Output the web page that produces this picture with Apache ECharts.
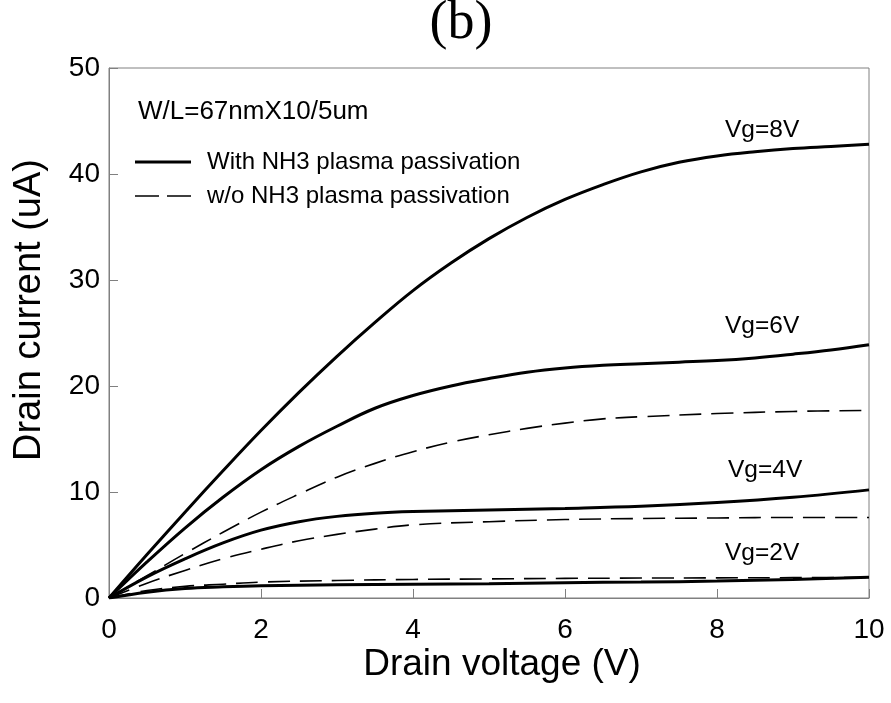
<!DOCTYPE html>
<html>
<head>
<meta charset="utf-8">
<script src="https://cdn.jsdelivr.net/npm/echarts@6/dist/echarts.min.js"></script>
<style>html,body{margin:0;padding:0;background:#fff}#c{width:891px;height:703px}</style>
</head>
<body>
<div id="c"></div>
<script>
// Drain voltage (V) vs drain current (uA)
const vg8Solid = [[0,0],[0.5,4.1],[1,8.1],[1.5,12.0],[2,15.8],[2.5,19.4],[3,22.8],[3.5,26.0],[4,29.0],[4.5,31.6],[5,33.9],[5.5,35.9],[6,37.6],[6.5,39.0],[7,40.2],[7.5,41.1],[8,41.7],[8.5,42.1],[9,42.4],[9.5,42.6],[10,42.8]];
const vg6Solid = [[0,0],[0.5,3.4],[1,6.6],[1.5,9.5],[2,12.1],[2.5,14.3],[3,16.2],[3.5,17.9],[4,19.1],[4.5,20.0],[5,20.7],[5.5,21.3],[6,21.7],[6.5,21.95],[7,22.1],[7.5,22.25],[8,22.4],[8.5,22.65],[9,23.0],[9.5,23.4],[10,23.9]];
const vg6Dash  = [[0,0],[0.5,2.1],[1,4.2],[1.5,6.2],[2,8.1],[2.5,9.8],[3,11.4],[3.5,12.7],[4,13.8],[4.5,14.7],[5,15.4],[5.5,16.0],[6,16.5],[6.5,16.9],[7,17.1],[8,17.4],[9,17.6],[10,17.7]];
const vg4Solid = [[0,0],[0.5,2.0],[1,3.7],[1.5,5.2],[2,6.4],[2.5,7.2],[3,7.7],[3.5,8.0],[4,8.15],[5,8.3],[6,8.45],[7,8.65],[8,9.0],[9,9.5],[10,10.2]];
const vg4Dash  = [[0,0],[0.5,1.4],[1,2.6],[1.5,3.7],[2,4.6],[2.5,5.4],[3,6.0],[3.5,6.5],[4,6.9],[5,7.2],[6,7.4],[7,7.5],[8,7.55],[9,7.6],[10,7.6]];
const vg2Solid = [[0,0],[0.5,0.55],[1,0.9],[1.5,1.05],[2,1.15],[3,1.25],[4,1.3],[5,1.35],[6,1.45],[7,1.5],[8,1.6],[9,1.75],[10,1.95]];
const vg2Dash  = [[0,0],[0.5,0.7],[1,1.1],[1.5,1.3],[2,1.5],[3,1.65],[4,1.75],[5,1.8],[6,1.85],[7,1.88],[8,1.9],[9,1.92],[10,1.95]];
const legendNames = ['With NH3 plasma passivation', 'w/o NH3 plasma passivation'];
const vgLabels = ['Vg=8V', 'Vg=6V', 'Vg=4V', 'Vg=2V'];
const axisNames = ['Drain voltage (V)', 'Drain current (uA)'];

const solid = (d) => ({type:'line', name:legendNames[0], data:d, smooth:0.4, showSymbol:false, symbol:'none',
  lineStyle:{color:'#000', width:3, type:'solid'}, silent:true, z:3});
const dash = (d) => ({type:'line', name:legendNames[1], data:d, smooth:0.4, showSymbol:false, symbol:'none',
  lineStyle:{color:'#000', width:1.6, type:[22,10]}, silent:true, z:2});

const sans = 'Liberation Sans, Arial, sans-serif';
const txt = (t, x, y, size, align) => ({type:'text', x:x, y:y,
  style:{text:t, font: size + 'px ' + sans, fill:'#000', textAlign: align || 'left', align: align || 'left',
    textVerticalAlign:'middle', verticalAlign:'middle'}});

const chart = echarts.init(document.getElementById('c'));
chart.setOption({
  animation:false,
  backgroundColor:'#fff',
  title:{text:'(b)', left:456, top:-8, textAlign:'center',
    textStyle:{fontFamily:'Liberation Serif, Times New Roman, serif', fontSize:54, fontWeight:'normal', color:'#000'}},
  grid:{left:109, right:22, top:68, bottom:105, show:true, borderColor:'#808080', borderWidth:1},
  xAxis:{type:'value', min:0, max:10, interval:2,
    axisLine:{lineStyle:{color:'#808080', width:1}},
    axisTick:{inside:true, length:9, lineStyle:{color:'#808080'}},
    axisLabel:{fontFamily:sans, fontSize:28, color:'#000', margin:18},
    splitLine:{show:false}},
  yAxis:{type:'value', min:0, max:50, interval:10,
    axisLine:{show:true, lineStyle:{color:'#808080', width:1}},
    axisTick:{show:true, inside:true, length:9, lineStyle:{color:'#808080'}},
    axisLabel:{fontFamily:sans, fontSize:28, color:'#000', margin:9},
    splitLine:{show:false}},
  graphic:[
    txt(axisNames[0], 502, 665, 37, 'center'),
    {type:'text', x:30, y:310, rotation:Math.PI/2,
      style:{text:axisNames[1], font:'38px ' + sans, fill:'#000', textAlign:'center', align:'center',
        textVerticalAlign:'middle', verticalAlign:'middle'}},
    txt('W/L=67nmX10/5um', 138, 112, 26),
    {type:'line', shape:{x1:135, y1:162, x2:191, y2:162}, style:{stroke:'#000', lineWidth:3}},
    {type:'line', shape:{x1:135, y1:196, x2:191, y2:196}, style:{stroke:'#000', lineWidth:1.6, lineDash:[24,8]}},
    txt(legendNames[0], 207, 162, 24),
    txt(legendNames[1], 207, 196, 24),
    txt(vgLabels[0], 725, 130, 24.5),
    txt(vgLabels[1], 725, 326, 24.5),
    txt(vgLabels[2], 728, 470, 24.5),
    txt(vgLabels[3], 725, 553, 24.5)
  ],
  series:[solid(vg8Solid), solid(vg6Solid), dash(vg6Dash), solid(vg4Solid), dash(vg4Dash), solid(vg2Solid), dash(vg2Dash)]
});
</script>
</body>
</html>
